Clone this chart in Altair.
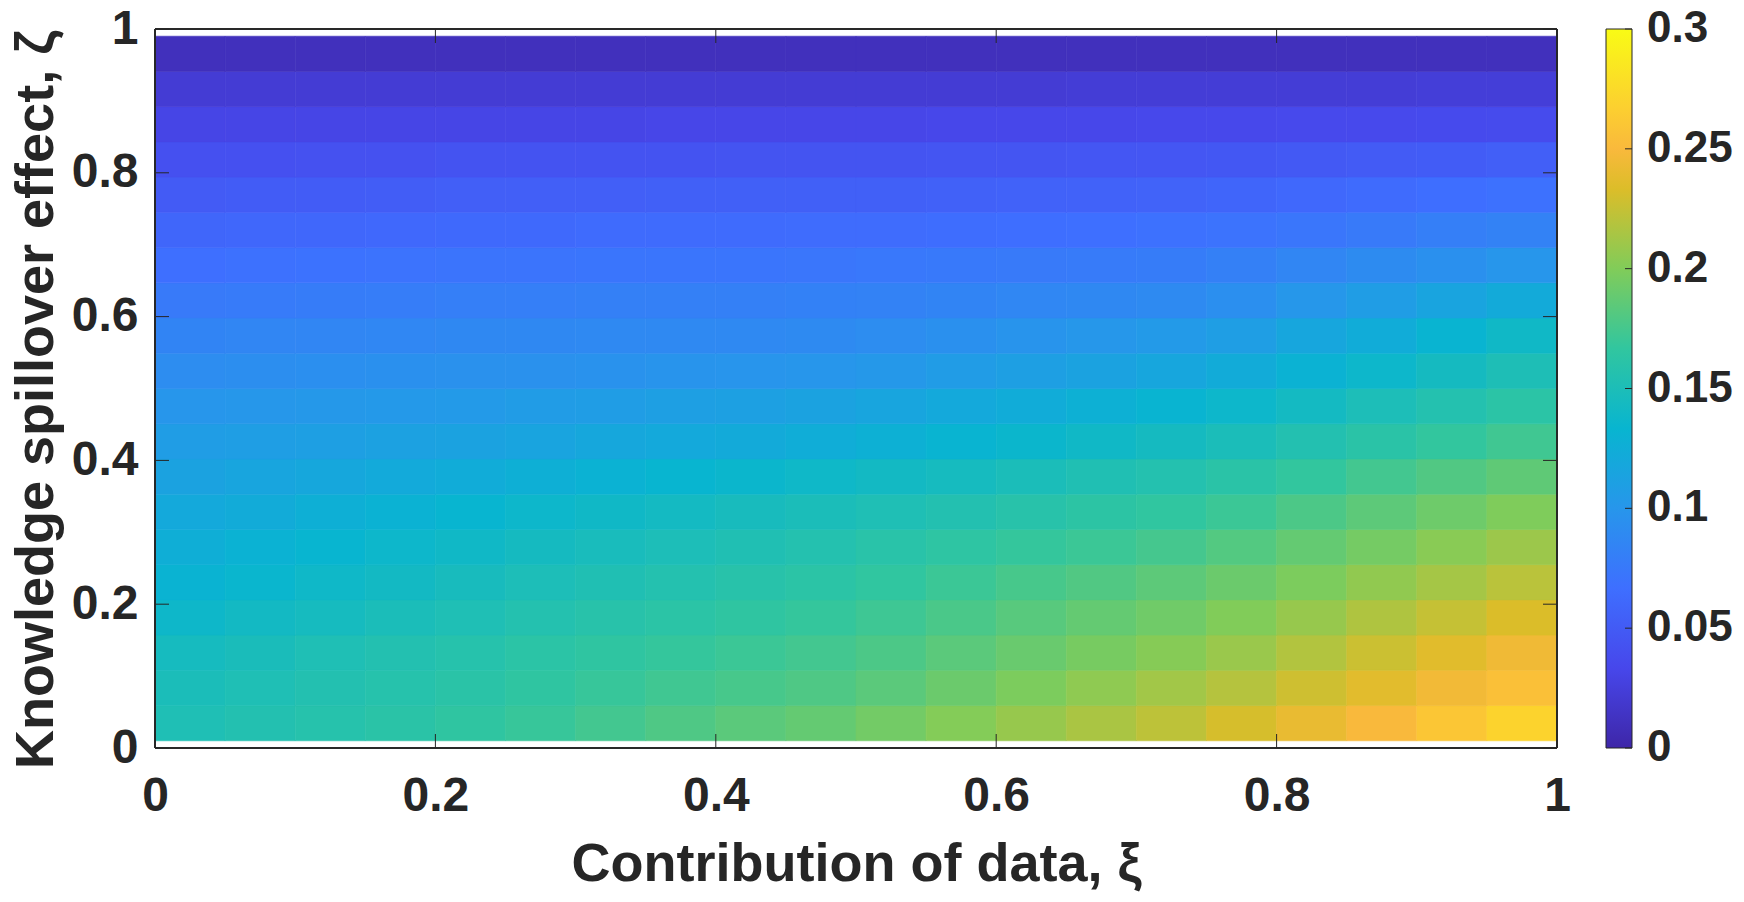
import altair as alt
import pandas as pd

# grid (cell edges) of the surface
xi_edges = [0.0, 0.05, 0.1, 0.15, 0.2, 0.25, 0.3, 0.35, 0.4, 0.45, 0.5,
            0.55, 0.6, 0.65, 0.7, 0.75, 0.8, 0.85, 0.9, 0.95, 1.0]
zeta_edges = [0.01, 0.059, 0.108, 0.157, 0.206, 0.255, 0.304, 0.353, 0.402, 0.451, 0.5,
              0.549, 0.598, 0.647, 0.696, 0.745, 0.794, 0.843, 0.892, 0.941, 0.99]

# values, rows from bottom (zeta ~0.03) to top (zeta ~0.97)
values = [
    [.152,.155,.158,.161,.165,.169,.174,.179,.184,.188,.194,.201,.208,.215,.222,.231,.241,.250,.260,.270],
    [.149,.152,.155,.158,.161,.165,.169,.173,.176,.179,.184,.191,.198,.205,.212,.219,.228,.237,.246,.255],
    [.145,.148,.152,.155,.158,.162,.165,.168,.171,.174,.178,.184,.190,.196,.202,.209,.218,.227,.236,.245],
    [.138,.142,.145,.149,.152,.156,.159,.162,.165,.168,.172,.177,.183,.188,.193,.200,.208,.217,.225,.233],
    [.131,.135,.139,.142,.146,.150,.153,.156,.159,.162,.166,.171,.176,.180,.185,.191,.198,.206,.213,.221],
    [.126,.130,.133,.137,.140,.144,.147,.150,.153,.156,.160,.164,.168,.171,.175,.181,.188,.195,.203,.210],
    [.120,.123,.127,.130,.133,.137,.140,.143,.146,.149,.152,.155,.159,.163,.166,.171,.178,.185,.192,.199],
    [.113,.116,.118,.121,.124,.127,.130,.133,.136,.139,.142,.145,.149,.153,.156,.161,.167,.174,.180,.186],
    [.107,.109,.110,.112,.113,.115,.118,.120,.122,.125,.128,.132,.136,.140,.144,.149,.155,.161,.167,.173],
    [.100,.101,.102,.103,.104,.106,.108,.110,.111,.113,.116,.120,.124,.128,.132,.137,.143,.150,.156,.162],
    [.092,.093,.094,.095,.096,.096,.097,.098,.099,.100,.102,.106,.110,.113,.117,.123,.130,.137,.144,.151],
    [.085,.086,.086,.087,.088,.088,.089,.089,.089,.090,.092,.095,.098,.101,.104,.109,.117,.124,.132,.140],
    [.076,.077,.078,.079,.080,.080,.081,.081,.081,.082,.083,.085,.087,.088,.090,.094,.101,.108,.115,.122],
    [.067,.068,.069,.070,.071,.071,.072,.072,.072,.073,.074,.075,.076,.077,.078,.081,.086,.091,.095,.100],
    [.059,.060,.060,.061,.062,.062,.063,.063,.063,.064,.064,.065,.066,.067,.068,.070,.073,.076,.080,.083],
    [.050,.051,.051,.052,.053,.053,.053,.054,.054,.054,.054,.055,.056,.056,.057,.058,.061,.063,.066,.068],
    [.041,.041,.042,.042,.043,.043,.043,.043,.044,.044,.044,.045,.045,.046,.046,.047,.048,.050,.051,.053],
    [.031,.031,.031,.031,.031,.031,.031,.032,.032,.032,.032,.033,.033,.033,.034,.034,.035,.035,.036,.037],
    [.022,.022,.022,.022,.022,.022,.022,.022,.022,.022,.022,.022,.022,.023,.023,.023,.023,.023,.024,.024],
    [.010,.010,.010,.010,.010,.010,.010,.010,.010,.010,.010,.010,.010,.010,.010,.010,.010,.010,.010,.010],
]

x_ticks = [0, 0.2, 0.4, 0.6, 0.8, 1]
y_ticks = [0, 0.2, 0.4, 0.6, 0.8, 1]
cbar_ticks = [0, 0.05, 0.1, 0.15, 0.2, 0.25, 0.3]
cbar_max = 0.3

# parula-like colormap
cmap_stops = [0.0, 0.0333, 0.0667, 0.1, 0.1333, 0.1667, 0.2, 0.2333, 0.25, 0.2667, 0.3]
cmap_colors = ["#3E26A8", "#4747EB", "#3E6FFF", "#2796EB", "#08B5D0", "#31C69F",
               "#81CC59", "#DCBD29", "#F9B93C", "#FCCF30", "#F9FB15"]

rows = []
for j in range(len(zeta_edges) - 1):
    for i in range(len(xi_edges) - 1):
        rows.append({"x0": xi_edges[i], "x1": xi_edges[i + 1],
                     "y0": zeta_edges[j], "y1": zeta_edges[j + 1],
                     "v": values[j][i], "vs": values[j][i]})
df = pd.DataFrame(rows)

W, H = 1402, 719
FONT = "Liberation Sans"
TXT = "#262626"
CBX = 1451      # colorbar left edge, relative to plot
CBW = 26        # colorbar thickness


def cscale():
    return alt.Scale(domain=cmap_stops, range=cmap_colors, interpolate="rgb")


heat = alt.Chart(df).mark_rect(strokeWidth=0.6).encode(
    x=alt.X("x0:Q", scale=alt.Scale(domain=[0, 1], nice=False, zero=False),
            axis=alt.Axis(values=x_ticks, format="~g", title="Contribution of data, ξ",
                          labelFlush=False, labelPadding=24, titlePadding=17)),
    x2="x1:Q",
    y=alt.Y("y0:Q", scale=alt.Scale(domain=[0, 1], nice=False, zero=False),
            axis=alt.Axis(values=y_ticks, format="~g", title="Knowledge spillover effect, ζ",
                          labelFlush=False, labelPadding=17, titlePadding=8, titleY=370)),
    y2="y1:Q",
    fill=alt.Fill("v:Q", scale=cscale(), legend=None),
    stroke=alt.Stroke("vs:Q", scale=cscale(), legend=None),
)

xt = pd.DataFrame({"t": x_ticks})
yt = pd.DataFrame({"t": y_ticks})
TL = 14
tick_b = alt.Chart(xt).mark_rule(color=TXT, strokeWidth=1).encode(
    x="t:Q", y=alt.value(H), y2=alt.value(H - TL))
tick_t = alt.Chart(xt).mark_rule(color=TXT, strokeWidth=1).encode(
    x="t:Q", y=alt.value(0), y2=alt.value(TL))
tick_l = alt.Chart(yt).mark_rule(color=TXT, strokeWidth=1).encode(
    y="t:Q", x=alt.value(0), x2=alt.value(TL))
tick_r = alt.Chart(yt).mark_rule(color=TXT, strokeWidth=1).encode(
    y="t:Q", x=alt.value(W), x2=alt.value(W - TL))
frame = alt.Chart(xt).mark_rect(filled=False, stroke=TXT, strokeWidth=1).encode(
    x=alt.value(0), x2=alt.value(W), y=alt.value(0), y2=alt.value(H))

# colorbar
cb = pd.DataFrame({"c": cbar_ticks})
grad = alt.Gradient(
    gradient="linear",
    stops=[alt.GradientStop(offset=s / cbar_max, color=c) for s, c in zip(cmap_stops, cmap_colors)],
    x1=0, x2=0, y1=1, y2=0,
)
cbar_rect = alt.Chart(cb.head(1)).mark_rect(fill=grad, stroke=TXT, strokeWidth=1).encode(
    x=alt.value(CBX), x2=alt.value(CBX + CBW), y=alt.value(0), y2=alt.value(H))
cbar_tick = alt.Chart(cb).transform_calculate(cy=f"datum.c / {cbar_max}").mark_rule(
    color=TXT, strokeWidth=1).encode(
    y="cy:Q", x=alt.value(CBX + CBW - 7), x2=alt.value(CBX + CBW))
cbar_lab = alt.Chart(cb).transform_calculate(cy=f"datum.c / {cbar_max}").mark_text(
    align="left", baseline="middle", font=FONT, fontSize=44, fontWeight="bold",
    color=TXT).encode(
    y="cy:Q", x=alt.value(CBX + CBW + 15), text=alt.Text("c:Q", format="~g"))

chart = alt.layer(heat, tick_b, tick_t, tick_l, tick_r, frame,
                  cbar_rect, cbar_tick, cbar_lab).properties(
    width=W, height=H,
    background="white",
    autosize=alt.AutoSizeParams(type="none"),
    padding={"left": 147, "top": 21, "right": 179, "bottom": 146},
).configure_view(stroke=None).configure_axis(
    grid=False, domain=False, ticks=False,
    labelFont=FONT, labelFontSize=48, labelFontWeight="bold", labelColor=TXT,
    titleFont=FONT, titleFontSize=54, titleFontWeight="bold", titleColor=TXT,
)

chart.save("out.html", embed_options={"renderer": "svg", "actions": False})
